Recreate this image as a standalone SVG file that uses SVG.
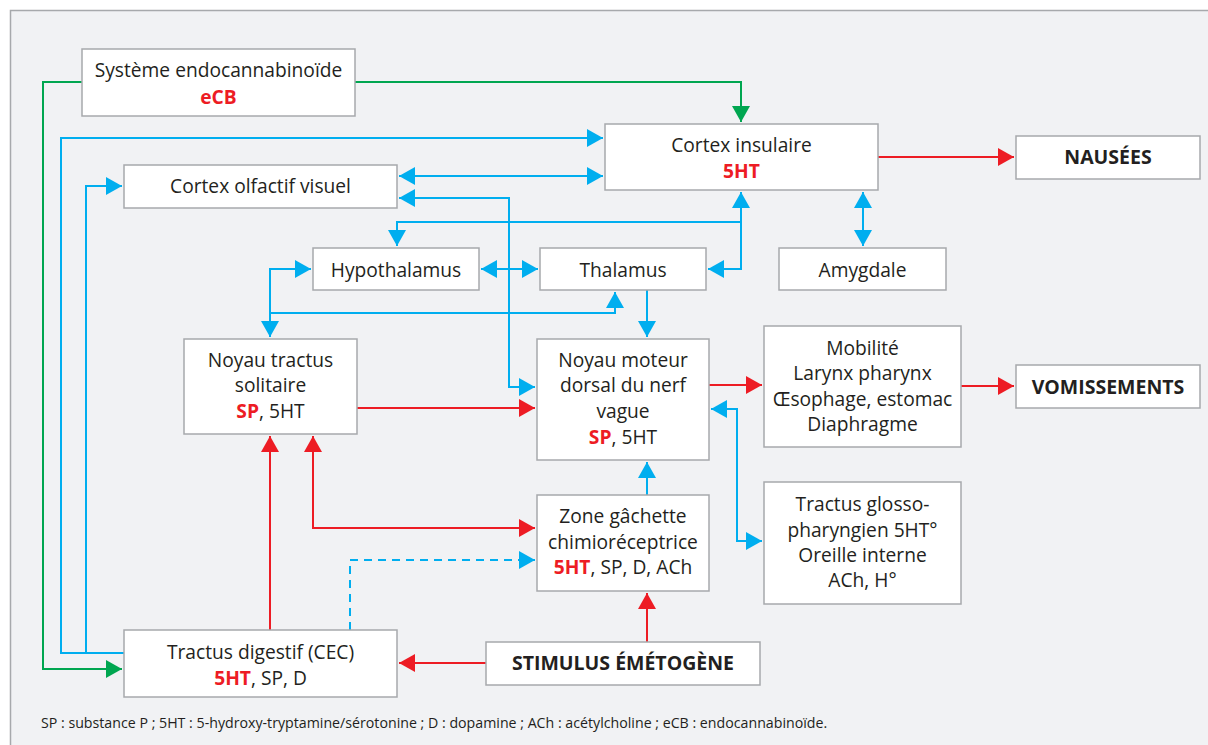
<svg xmlns="http://www.w3.org/2000/svg" width="1208" height="745" viewBox="0 0 1208 745">
<defs>
<style>
.box{fill:#ffffff;stroke:#a7a9ac;stroke-width:1.5}
.t{font-family:"Open Sans","Liberation Sans",sans-serif;font-size:19.2px;fill:#231f20;text-anchor:middle}
.b{font-weight:bold;font-size:19.5px}
.r{fill:#ed1c24;font-weight:bold}
.foot{font-family:"Open Sans","Liberation Sans",sans-serif;font-size:14.2px;fill:#231f20}
.cb{fill:none;stroke:#00aeef;stroke-width:2}
.cr{fill:none;stroke:#ed1c24;stroke-width:2}
.cg{fill:none;stroke:#00a650;stroke-width:2}
.dash{stroke-dasharray:8 6}
</style>
<marker id="ab" viewBox="0 0 16 18" refX="16" refY="9" markerWidth="16" markerHeight="18" markerUnits="userSpaceOnUse" orient="auto-start-reverse"><path d="M0,0 L16,9 L0,18 z" fill="#00aeef"/></marker>
<marker id="ar" viewBox="0 0 16 18" refX="16" refY="9" markerWidth="16" markerHeight="18" markerUnits="userSpaceOnUse" orient="auto-start-reverse"><path d="M0,0 L16,9 L0,18 z" fill="#ed1c24"/></marker>
<marker id="ag" viewBox="0 0 16 18" refX="16" refY="9" markerWidth="16" markerHeight="18" markerUnits="userSpaceOnUse" orient="auto-start-reverse"><path d="M0,0 L16,9 L0,18 z" fill="#00a650"/></marker>
</defs>
<rect x="0" y="0" width="1208" height="745" fill="#ffffff"/>
<rect x="10.5" y="10.5" width="1210" height="750" fill="#f1f2f4" stroke="#a7a9ac" stroke-width="1.5"/>

<g id="connectors">
<path class="cg" d="M82,82 H43 V669 H122" marker-end="url(#ag)"/>
<path class="cg" d="M355,82 H741 V122" marker-end="url(#ag)"/>
<path class="cb" d="M124,653 H61 V138 H603" marker-end="url(#ab)"/>
<path class="cb" d="M86,653 V186 H122" marker-end="url(#ab)"/>
<path class="cb" d="M399,176 H603" marker-start="url(#ab)" marker-end="url(#ab)"/>
<path class="cb" d="M399,198 H509 V387 H535" marker-start="url(#ab)" marker-end="url(#ab)"/>
<path class="cb" d="M741,192 V269 H708" marker-start="url(#ab)" marker-end="url(#ab)"/>
<path class="cb" d="M741,222 H397 V246" marker-end="url(#ab)"/>
<path class="cb" d="M481,269 H538" marker-start="url(#ab)" marker-end="url(#ab)"/>
<path class="cb" d="M863,192 V246" marker-start="url(#ab)" marker-end="url(#ab)"/>
<path class="cb" d="M311,269 H270 V337" marker-start="url(#ab)" marker-end="url(#ab)"/>
<path class="cb" d="M270,313 H615 V292" marker-end="url(#ab)"/>
<path class="cb" d="M647,290 V337" marker-end="url(#ab)"/>
<path class="cb" d="M647,495 V462" marker-end="url(#ab)"/>
<path class="cb" d="M711,409 H737 V541 H762" marker-start="url(#ab)" marker-end="url(#ab)"/>
<path class="cb dash" d="M350,630 V560 H535" marker-end="url(#ab)"/>
<path class="cr" d="M878,157 H1014" marker-end="url(#ar)"/>
<path class="cr" d="M357,408 H535" marker-end="url(#ar)"/>
<path class="cr" d="M709,385 H762" marker-end="url(#ar)"/>
<path class="cr" d="M961,386 H1014" marker-end="url(#ar)"/>
<path class="cr" d="M270,630 V436" marker-end="url(#ar)"/>
<path class="cr" d="M535,528 H313 V436" marker-start="url(#ar)" marker-end="url(#ar)"/>
<path class="cr" d="M486,663 H399" marker-end="url(#ar)"/>
<path class="cr" d="M647,642 V593" marker-end="url(#ar)"/>
</g>

<g id="ecb"><rect class="box" x="82" y="49" width="273" height="67"/>
<text class="t" x="218.5" y="77">Système endocannabinoïde</text>
<text class="t r" x="218.5" y="104">eCB</text></g>

<g id="cortex-olfactif"><rect class="box" x="124" y="165" width="273" height="43"/>
<text class="t" x="260.5" y="193">Cortex olfactif visuel</text></g>

<g id="cortex-insulaire"><rect class="box" x="605" y="124" width="273" height="66"/>
<text class="t" x="741.5" y="152">Cortex insulaire</text>
<text class="t r" x="741.5" y="178">5HT</text></g>

<g id="nausees"><rect class="box" x="1016" y="136" width="184" height="43"/>
<text class="t b" x="1108" y="164">NAUSÉES</text></g>

<g id="hypothalamus"><rect class="box" x="313" y="248" width="166" height="42"/>
<text class="t" x="396" y="277">Hypothalamus</text></g>

<g id="thalamus"><rect class="box" x="540" y="248" width="166" height="42"/>
<text class="t" x="623" y="277">Thalamus</text></g>

<g id="amygdale"><rect class="box" x="779" y="248" width="167" height="42"/>
<text class="t" x="862.5" y="277">Amygdale</text></g>

<g id="nts"><rect class="box" x="184" y="339" width="173" height="95"/>
<text class="t" x="270.5" y="367">Noyau tractus</text>
<text class="t" x="270.5" y="392">solitaire</text>
<text class="t" x="270.5" y="418"><tspan class="r">SP</tspan>, 5HT</text></g>

<g id="noyau-moteur"><rect class="box" x="537" y="339" width="172" height="121"/>
<text class="t" x="623" y="367">Noyau moteur</text>
<text class="t" x="623" y="392">dorsal du nerf</text>
<text class="t" x="623" y="418">vague</text>
<text class="t" x="623" y="444"><tspan class="r">SP</tspan>, 5HT</text></g>

<g id="mobilite"><rect class="box" x="764" y="326" width="197" height="121"/>
<text class="t" x="862.5" y="355">Mobilité</text>
<text class="t" x="862.5" y="380">Larynx pharynx</text>
<text class="t" x="862.5" y="406">Œsophage, estomac</text>
<text class="t" x="862.5" y="431">Diaphragme</text></g>

<g id="vomissements"><rect class="box" x="1016" y="365" width="184" height="43"/>
<text class="t b" x="1108" y="394">VOMISSEMENTS</text></g>

<g id="zone-gachette"><rect class="box" x="537" y="495" width="172" height="96"/>
<text class="t" x="623" y="523">Zone gâchette</text>
<text class="t" x="623" y="549">chimioréceptrice</text>
<text class="t" x="623" y="574"><tspan class="r">5HT</tspan>, SP, D, ACh</text></g>

<g id="tractus-glosso"><rect class="box" x="764" y="482" width="197" height="122"/>
<text class="t" x="862.5" y="511">Tractus glosso-</text>
<text class="t" x="862.5" y="537">pharyngien 5HT°</text>
<text class="t" x="862.5" y="562">Oreille interne</text>
<text class="t" x="862.5" y="587">ACh, H°</text></g>

<g id="tractus-digestif"><rect class="box" x="124" y="630" width="273" height="67"/>
<text class="t" x="260.5" y="659">Tractus digestif (CEC)</text>
<text class="t" x="260.5" y="685"><tspan class="r">5HT</tspan>, SP, D</text></g>

<g id="stimulus"><rect class="box" x="486" y="642" width="274" height="43"/>
<text class="t b" x="623" y="670">STIMULUS ÉMÉTOGÈNE</text></g>

<text class="foot" x="41" y="728">SP : substance P ; 5HT : 5-hydroxy-tryptamine/sérotonine ; D : dopamine ; ACh : acétylcholine ; eCB : endocannabinoïde.</text>
</svg>
